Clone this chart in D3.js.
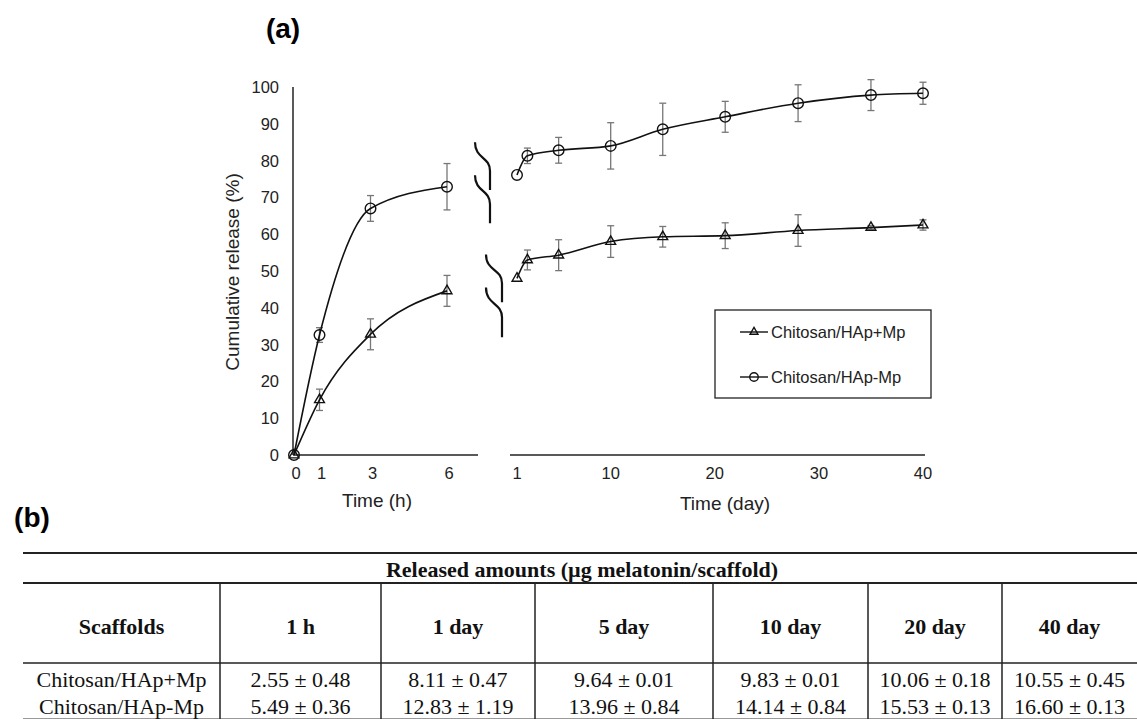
<!DOCTYPE html>
<html>
<head>
<meta charset="utf-8">
<script src="https://cdn.jsdelivr.net/npm/d3@7"></script>
<style>
  body { margin: 0; background: #fff; }
  svg { display: block; }
</style>
</head>
<body>
<div id="fig"></div>
<script>
// ---- data ----
const hours = [0, 1, 3, 6];
const plusMpHours = [0, 15.0, 32.8, 44.6];
const plusMpHoursErr = [0, 2.9, 4.2, 4.2];
const minusMpHours = [0, 32.6, 67.0, 72.9];
const minusMpHoursErr = [0, 2.0, 3.5, 6.3];

const days = [1, 2, 5, 10, 15, 21, 28, 35, 40];
const plusMpDays = [48.0, 53.0, 54.3, 58.0, 59.3, 59.6, 61.0, 61.8, 62.5];
const plusMpDaysErr = [0, 2.7, 4.2, 4.3, 2.8, 3.5, 4.3, 0.5, 1.4];
const minusMpDays = [76.1, 81.3, 82.8, 84.0, 88.5, 91.9, 95.6, 97.8, 98.3];
const minusMpDaysErr = [0, 2.1, 3.5, 6.3, 7.1, 4.2, 5.0, 4.2, 3.0];

const yTicks = [0, 10, 20, 30, 40, 50, 60, 70, 80, 90, 100];
const hourTicks = [0, 1, 3, 6];
const dayTicks = [1, 10, 20, 30, 40];

const seriesNames = ["Chitosan/HAp+Mp", "Chitosan/HAp-Mp"];

// break symbols (value ranges on the y axis)
const breaksTop = [[85, 72], [76, 63]];
const breaksBottom = [[54.5, 41.5], [45.5, 32]];

// table (b)
const tableTitle = "Released amounts (µg melatonin/scaffold)";
const tableHeader = ["Scaffolds", "1 h", "1 day", "5 day", "10 day", "20 day", "40 day"];
const tableRows = [
  ["Chitosan/HAp+Mp", "2.55 ± 0.48", "8.11 ± 0.47", "9.64 ± 0.01", "9.83 ± 0.01", "10.06 ± 0.18", "10.55 ± 0.45"],
  ["Chitosan/HAp-Mp", "5.49 ± 0.36", "12.83 ± 1.19", "13.96 ± 0.84", "14.14 ± 0.84", "15.53 ± 0.13", "16.60 ± 0.13"]
];

// ---- layout ----
var width = 1137, height = 719;
var sans = "'Liberation Sans', Arial, sans-serif";
var serif = "'Liberation Serif', 'Times New Roman', serif";

var svg = d3.select("#fig").append("svg").attr("width", width).attr("height", height);

var yScale = d3.scaleLinear().domain([0, 100]).range([455, 87]);
var xHour = d3.scaleLinear().domain([0, 6]).range([294, 447]);
var xDay = d3.scaleLinear().domain([1, 40]).range([517, 923]);

// panel label
svg.append("text").attr("x", 283).attr("y", 38).attr("text-anchor", "middle")
  .attr("font-family", sans).attr("font-weight", "bold").attr("font-size", "28px").text("(a)");

// y axis line + labels
svg.append("line").attr("x1", 293).attr("x2", 293).attr("y1", yScale(100)).attr("y2", yScale(0))
  .attr("stroke", "#222").attr("stroke-width", 1.5);
svg.append("g").selectAll("text").data(yTicks).enter().append("text")
  .attr("x", 279).attr("y", d => yScale(d) + 6).attr("text-anchor", "end")
  .attr("font-family", sans).attr("font-size", "16.5px").attr("fill", "#222").text(d => d);

svg.append("text")
  .attr("transform", "translate(239," + 272 + ") rotate(-90)")
  .attr("text-anchor", "middle").attr("font-family", sans).attr("font-size", "19px").attr("fill", "#222")
  .text("Cumulative release (%)");

// x axes
svg.append("line").attr("x1", 293).attr("x2", 478).attr("y1", 455).attr("y2", 455)
  .attr("stroke", "#222").attr("stroke-width", 1.5);
svg.append("line").attr("x1", 510).attr("x2", 925).attr("y1", 455).attr("y2", 455)
  .attr("stroke", "#222").attr("stroke-width", 1.5);

svg.append("g").selectAll("text").data(hourTicks).enter().append("text")
  .attr("x", d => xHour(d) + 2).attr("y", 479).attr("text-anchor", "middle")
  .attr("font-family", sans).attr("font-size", "16.5px").attr("fill", "#222").text(d => d);
svg.append("g").selectAll("text").data(dayTicks).enter().append("text")
  .attr("x", d => xDay(d)).attr("y", 479).attr("text-anchor", "middle")
  .attr("font-family", sans).attr("font-size", "16.5px").attr("fill", "#222").text(d => d);

svg.append("text").attr("x", 377).attr("y", 507).attr("text-anchor", "middle")
  .attr("font-family", sans).attr("font-size", "19px").attr("fill", "#222").text("Time (h)");
svg.append("text").attr("x", 725).attr("y", 510).attr("text-anchor", "middle")
  .attr("font-family", sans).attr("font-size", "19px").attr("fill", "#222").text("Time (day)");

// break symbols
function breakPath(x0, y0, x1, y1) {
  var h = y1 - y0;
  return "M" + x0 + "," + y0 +
    " C" + x0 + "," + (y0 + h * 0.35) + " " + x1 + "," + (y0 + h * 0.3) + " " + x1 + "," + (y0 + h * 0.6) +
    " L" + x1 + "," + y1;
}
breaksTop.forEach(function(b) {
  svg.append("path").attr("d", breakPath(475, yScale(b[0]), 490, yScale(b[1])))
    .attr("fill", "none").attr("stroke", "#111").attr("stroke-width", 2.2);
});
breaksBottom.forEach(function(b) {
  svg.append("path").attr("d", breakPath(486, yScale(b[0]), 502, yScale(b[1])))
    .attr("fill", "none").attr("stroke", "#111").attr("stroke-width", 2.2);
});

// series
var line = d3.line().curve(d3.curveMonotoneX);

function drawSeries(xs, ys, errs, xScale, marker) {
  var pts = xs.map((x, i) => [xScale(x), yScale(ys[i])]);
  var g = svg.append("g");
  // error bars
  xs.forEach(function(x, i) {
    if (errs[i] <= 0) return;
    var cx = xScale(x), t = yScale(ys[i] + errs[i]), b = yScale(ys[i] - errs[i]);
    g.append("line").attr("x1", cx).attr("x2", cx).attr("y1", t).attr("y2", b)
      .attr("stroke", "#777").attr("stroke-width", 1.3);
    g.append("line").attr("x1", cx - 3.5).attr("x2", cx + 3.5).attr("y1", t).attr("y2", t)
      .attr("stroke", "#777").attr("stroke-width", 1.3);
    g.append("line").attr("x1", cx - 3.5).attr("x2", cx + 3.5).attr("y1", b).attr("y2", b)
      .attr("stroke", "#777").attr("stroke-width", 1.3);
  });
  g.append("path").attr("d", line(pts)).attr("fill", "none").attr("stroke", "#111").attr("stroke-width", 1.6);
  pts.forEach(function(p) { drawMarker(g, p[0], p[1], marker, 1); });
}

function drawMarker(g, x, y, marker, s) {
  if (marker === "circle") {
    g.append("circle").attr("cx", x).attr("cy", y).attr("r", 5.3 * s)
      .attr("fill", "none").attr("stroke", "#111").attr("stroke-width", 1.4);
  } else {
    g.append("path").attr("d", d3.symbol().type(d3.symbolTriangle).size(42 * s * s)())
      .attr("transform", "translate(" + x + "," + y + ")")
      .attr("fill", "none").attr("stroke", "#111").attr("stroke-width", 1.4);
  }
}

drawSeries(hours, plusMpHours, plusMpHoursErr, xHour, "triangle");
drawSeries(hours, minusMpHours, minusMpHoursErr, xHour, "circle");
drawSeries(days, plusMpDays, plusMpDaysErr, xDay, "triangle");
drawSeries(days, minusMpDays, minusMpDaysErr, xDay, "circle");

// legend
var lg = svg.append("g");
lg.append("rect").attr("x", 715).attr("y", 310).attr("width", 216).attr("height", 88)
  .attr("fill", "#fff").attr("stroke", "#222").attr("stroke-width", 1.3);
seriesNames.forEach(function(name, i) {
  var ly = 332 + i * 45;
  lg.append("line").attr("x1", 740).attr("x2", 768).attr("y1", ly).attr("y2", ly)
    .attr("stroke", "#111").attr("stroke-width", 1.4);
  drawMarker(lg, 754, ly, i === 0 ? "triangle" : "circle", 0.8);
  lg.append("text").attr("x", 771).attr("y", ly + 6).attr("font-family", sans)
    .attr("font-size", "16.5px").attr("fill", "#222").text(name);
});

// ---- table (b) ----
svg.append("text").attr("x", 32).attr("y", 527).attr("text-anchor", "middle")
  .attr("font-family", sans).attr("font-weight", "bold").attr("font-size", "28px").text("(b)");

var colEdges = [23, 220, 381, 535, 713, 868, 1002, 1137];
var tg = svg.append("g").attr("font-family", serif).attr("fill", "#111");

tg.append("line").attr("x1", 23).attr("x2", 1137).attr("y1", 553).attr("y2", 553)
  .attr("stroke", "#222").attr("stroke-width", 2);
tg.append("line").attr("x1", 23).attr("x2", 1137).attr("y1", 583).attr("y2", 583)
  .attr("stroke", "#222").attr("stroke-width", 1.8);
tg.append("line").attr("x1", 23).attr("x2", 1137).attr("y1", 663).attr("y2", 663)
  .attr("stroke", "#222").attr("stroke-width", 1.5);
tg.append("line").attr("x1", 23).attr("x2", 1137).attr("y1", 718.5).attr("y2", 718.5)
  .attr("stroke", "#999").attr("stroke-width", 1);
colEdges.slice(1, -1).forEach(function(x) {
  tg.append("line").attr("x1", x).attr("x2", x).attr("y1", 583).attr("y2", 719)
    .attr("stroke", "#222").attr("stroke-width", 1.5);
});

tg.append("text").attr("x", 582).attr("y", 577).attr("text-anchor", "middle")
  .attr("font-weight", "bold").attr("font-size", "22px").text(tableTitle);

tableHeader.forEach(function(h, i) {
  tg.append("text").attr("x", (colEdges[i] + colEdges[i + 1]) / 2).attr("y", 634)
    .attr("text-anchor", "middle").attr("font-weight", "bold").attr("font-size", "22px").text(h);
});
tableRows.forEach(function(row, r) {
  row.forEach(function(cell, i) {
    tg.append("text").attr("x", (colEdges[i] + colEdges[i + 1]) / 2).attr("y", 687 + r * 27)
      .attr("text-anchor", "middle").attr("font-size", "22px").text(cell);
  });
});
</script>
</body>
</html>
